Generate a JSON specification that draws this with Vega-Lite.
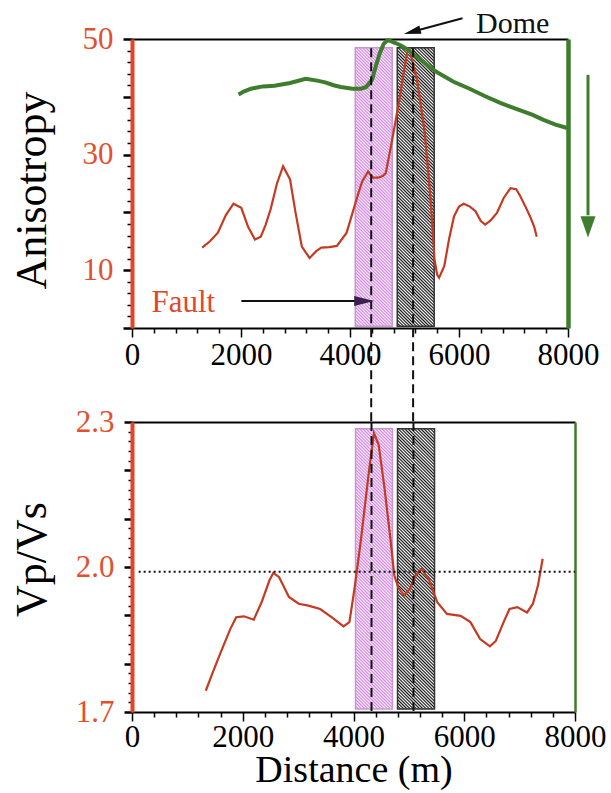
{
  "$schema": "https://vega.github.io/schema/vega-lite/v6.json",
  "padding": {"left": 10, "top": 8, "right": 5, "bottom": 3},
  "spacing": 94,
  "bounds": "flush",
  "datasets": {
    "aniso": [{"x":1289,"y":13.9},{"x":1430,"y":15.0},{"x":1576,"y":16.5},{"x":1720,"y":19.5},{"x":1862,"y":21.5},{"x":2005,"y":20.8},{"x":2130,"y":17.5},{"x":2256,"y":15.3},{"x":2363,"y":15.8},{"x":2450,"y":17.8},{"x":2542,"y":20.5},{"x":2660,"y":25.0},{"x":2772,"y":28.0},{"x":2900,"y":25.7},{"x":3000,"y":20.0},{"x":3116,"y":14.1},{"x":3259,"y":12.1},{"x":3380,"y":13.3},{"x":3474,"y":13.9},{"x":3620,"y":14.0},{"x":3760,"y":14.2},{"x":3939,"y":16.5},{"x":4083,"y":21.1},{"x":4160,"y":23.5},{"x":4226,"y":25.4},{"x":4333,"y":27.1},{"x":4420,"y":26.0},{"x":4512,"y":26.0},{"x":4600,"y":26.3},{"x":4656,"y":26.8},{"x":4763,"y":32.0},{"x":4906,"y":39.5},{"x":4990,"y":44.5},{"x":5049,"y":47.6},{"x":5090,"y":48.2},{"x":5135,"y":46.5},{"x":5228,"y":43.0},{"x":5300,"y":38.5},{"x":5372,"y":33.7},{"x":5479,"y":22.2},{"x":5551,"y":11.8},{"x":5600,"y":9.2},{"x":5635,"y":8.7},{"x":5729,"y":10.7},{"x":5820,"y":15.5},{"x":5908,"y":19.3},{"x":6000,"y":21.0},{"x":6087,"y":21.5},{"x":6200,"y":21.0},{"x":6302,"y":20.2},{"x":6400,"y":18.5},{"x":6481,"y":17.9},{"x":6580,"y":18.6},{"x":6696,"y":19.9},{"x":6820,"y":22.5},{"x":6946,"y":24.2},{"x":7050,"y":24.0},{"x":7125,"y":22.8},{"x":7220,"y":21.0},{"x":7304,"y":19.3},{"x":7380,"y":17.5},{"x":7426,"y":15.8}],
    "green": [{"x":1955,"y":40.4},{"x":2050,"y":40.9},{"x":2184,"y":41.4},{"x":2400,"y":41.8},{"x":2614,"y":41.9},{"x":2900,"y":42.4},{"x":3187,"y":43.1},{"x":3400,"y":42.8},{"x":3545,"y":42.5},{"x":3700,"y":42.0},{"x":3831,"y":41.7},{"x":4046,"y":41.4},{"x":4200,"y":41.4},{"x":4297,"y":41.7},{"x":4405,"y":43.0},{"x":4480,"y":45.5},{"x":4548,"y":47.6},{"x":4620,"y":49.2},{"x":4691,"y":49.8},{"x":4760,"y":49.6},{"x":4835,"y":49.3},{"x":4950,"y":48.8},{"x":5049,"y":48.2},{"x":5200,"y":47.1},{"x":5336,"y":46.1},{"x":5480,"y":45.0},{"x":5622,"y":44.1},{"x":5900,"y":42.6},{"x":6195,"y":41.4},{"x":6480,"y":40.1},{"x":6768,"y":38.9},{"x":7050,"y":37.9},{"x":7341,"y":36.9},{"x":7550,"y":36.0},{"x":7771,"y":35.2},{"x":7986,"y":34.6}],
    "vpvs": [{"x":1332,"y":1.744},{"x":1459,"y":1.782},{"x":1600,"y":1.823},{"x":1776,"y":1.872},{"x":1882,"y":1.896},{"x":2023,"y":1.898},{"x":2199,"y":1.891},{"x":2340,"y":1.927},{"x":2481,"y":1.972},{"x":2552,"y":1.988},{"x":2657,"y":1.979},{"x":2834,"y":1.938},{"x":3010,"y":1.924},{"x":3186,"y":1.920},{"x":3397,"y":1.913},{"x":3609,"y":1.896},{"x":3820,"y":1.877},{"x":3926,"y":1.886},{"x":4018,"y":1.955},{"x":4137,"y":2.059},{"x":4278,"y":2.197},{"x":4370,"y":2.277},{"x":4454,"y":2.253},{"x":4560,"y":2.163},{"x":4666,"y":2.059},{"x":4736,"y":1.983},{"x":4807,"y":1.958},{"x":4913,"y":1.941},{"x":5018,"y":1.955},{"x":5124,"y":1.983},{"x":5230,"y":1.996},{"x":5371,"y":1.972},{"x":5512,"y":1.927},{"x":5688,"y":1.903},{"x":5935,"y":1.899},{"x":6111,"y":1.886},{"x":6287,"y":1.851},{"x":6464,"y":1.836},{"x":6570,"y":1.847},{"x":6711,"y":1.886},{"x":6817,"y":1.913},{"x":6958,"y":1.917},{"x":7134,"y":1.906},{"x":7240,"y":1.924},{"x":7332,"y":1.962},{"x":7416,"y":2.017}],
    "rectsTop": [{"kind":"pink","x":4097,"x2":4775,"y":0.3,"y2":48.5},{"kind":"gray","x":4867,"x2":5545,"y":0.3,"y2":48.5}],
    "rectsBot": [{"kind":"pink","x":4036,"x2":4704,"y":1.706,"y2":2.286},{"kind":"gray","x":4795,"x2":5463,"y":1.706,"y2":2.286}],
    "dashTop": [{"x":4389,"y":48.4,"y2":-16.3},{"x":5158,"y":48.4,"y2":-16.3}],
    "dashBot": [{"x":4325,"y":2.3,"y2":1.7},{"x":5083,"y":2.3,"y2":1.7}],
    "refLine": [{"x":120,"x2":8000,"y":1.99}],
    "faultText": [{"x":357,"y":2.8,"text":"Fault"}],
    "faultArrow": [{"x":2007,"x2":4300,"y":4.67}],
    "faultHead": [{"x":4260,"y":4.67}],
    "domeText": [{"x":6314,"y":52.6,"text":"Dome"}],
    "domeArrow": [{"x":6064,"y":53.6,"x2":5141,"y2":51.25}],
    "domeHead": [{"x":5141,"y":51.25}],
    "greenArrow": [{"x":8367,"y":43.8,"y2":19.5}],
    "greenHead": [{"x":8367,"y":17.5}]
  },
  "vconcat": [
    {
      "width": 436,
      "height": 289,
      "resolve": {"axis": {"x": "independent", "y": "independent"}},
      "encoding": {
        "x": {"field": "x", "type": "quantitative", "scale": {"domain": [0, 8000], "nice": false, "zero": false}, "axis": null},
        "y": {"field": "y", "type": "quantitative", "scale": {"domain": [0, 50], "nice": false, "zero": false}, "axis": null}
      },
      "layer": [
        {
          "data": {"name": "rectsTop"},
          "transform": [{"filter": "datum.kind == 'pink'"}],
          "mark": {"type": "rect", "style": "hatchPink", "stroke": "#c996cf", "strokeWidth": 1.5},
          "encoding": {
            "x": {"field": "x", "type": "quantitative", "scale": {"domain": [0, 8000], "nice": false, "zero": false},
              "axis": {"orient": "bottom", "values": [0,400,800,1200,1600,2000,2400,2800,3200,3600,4000,4400,4800,5200,5600,6000,6400,6800,7200,7600,8000], "format": "d",
                "labelExpr": "datum.value % 2000 == 0 ? datum.label : ''",
                "tickSize": {"condition": {"test": "datum.value % 2000 == 0", "value": 9}, "value": 5},
                "tickColor": "#000", "tickWidth": 1.5, "domainColor": "#000", "domainWidth": 2, "labelColor": "#000", "labelPadding": 3, "title": null}},
            "x2": {"field": "x2"},
            "y": {"field": "y", "type": "quantitative", "scale": {"domain": [0, 50], "nice": false, "zero": false},
              "axis": {"orient": "left", "values": [0,2,4,6,8,10,12,14,16,18,20,22,24,26,28,30,32,34,36,38,40,42,44,46,48,50],
                "labelExpr": "datum.value % 20 == 10 ? datum.label : ''",
                "tickSize": {"condition": {"test": "datum.value % 10 == 0", "value": 9}, "value": 5},
                "tickWidth": {"condition": {"test": "datum.value % 10 == 0", "value": 2.5}, "value": 1.5},
                "tickColor": "#000", "domainColor": "#e2452a", "domainWidth": 4, "labelColor": "#e2502e", "labelPadding": 10,
                "title": "Anisotropy", "titleFontSize": 44, "titleAngle": 270, "titleAlign": "center", "titleBaseline": "middle", "titleX": -100, "titleY": 151}},
            "y2": {"field": "y2"}
          }
        },
        {
          "data": {"name": "rectsTop"},
          "transform": [{"filter": "datum.kind == 'gray'"}],
          "mark": {"type": "rect", "style": "hatchGray", "stroke": "#333333", "strokeWidth": 1.5},
          "encoding": {"x2": {"field": "x2"}, "y2": {"field": "y2"}}
        },
        {
          "data": {"name": "aniso"},
          "mark": {"type": "line", "color": "#c43a22", "strokeWidth": 2.2},
          "encoding": {
            "x": {"field": "x", "type": "quantitative", "scale": {"domain": [0, 8000], "nice": false, "zero": false},
              "axis": {"orient": "top", "ticks": false, "labels": false, "domainColor": "#000", "domainWidth": 2, "title": null}},
            "y": {"field": "y", "type": "quantitative", "scale": {"domain": [0, 50], "nice": false, "zero": false},
              "axis": {"orient": "right", "ticks": false, "labels": false, "domainColor": "#3d7d2b", "domainWidth": 4.5, "title": null}}
          }
        },
        {
          "data": {"name": "green"},
          "mark": {"type": "line", "color": "#3d7d2b", "strokeWidth": 4}
        },
        {
          "data": {"name": "dashTop"},
          "mark": {"type": "rule", "color": "#111111", "strokeWidth": 2, "strokeDash": [9, 5]},
          "encoding": {"y2": {"field": "y2"}}
        },
        {
          "data": {"name": "greenArrow"},
          "mark": {"type": "rule", "color": "#3d7d2b", "strokeWidth": 3},
          "encoding": {"y2": {"field": "y2"}}
        },
        {
          "data": {"name": "greenHead"},
          "mark": {"type": "point", "shape": "M-0.7,-1L0.7,-1L0,1Z", "filled": true, "size": 460, "color": "#3d7d2b", "opacity": 1}
        },
        {
          "data": {"name": "faultText"},
          "mark": {"type": "text", "align": "left", "baseline": "alphabetic", "fontSize": 31, "font": "Liberation Serif", "color": "#e0482c"},
          "encoding": {"text": {"field": "text"}}
        },
        {
          "data": {"name": "faultArrow"},
          "mark": {"type": "rule", "color": "#111111", "strokeWidth": 2},
          "encoding": {"x2": {"field": "x2"}}
        },
        {
          "data": {"name": "faultHead"},
          "mark": {"type": "point", "shape": "M-1,-0.5L1,0L-1,0.5Z", "filled": true, "size": 400, "color": "#3a2050", "opacity": 1}
        },
        {
          "data": {"name": "domeText"},
          "mark": {"type": "text", "align": "left", "baseline": "middle", "fontSize": 30, "font": "Liberation Serif", "color": "#111111"},
          "encoding": {"text": {"field": "text"}}
        },
        {
          "data": {"name": "domeArrow"},
          "mark": {"type": "rule", "color": "#111111", "strokeWidth": 2},
          "encoding": {"x2": {"field": "x2"}, "y2": {"field": "y2"}}
        },
        {
          "data": {"name": "domeHead"},
          "mark": {"type": "point", "shape": "M1,-0.5L-1,0L1,0.5Z", "filled": true, "size": 290, "angle": 345, "color": "#111111", "opacity": 1}
        }
      ]
    },
    {
      "width": 443,
      "height": 290,
      "resolve": {"axis": {"x": "independent", "y": "independent"}},
      "encoding": {
        "x": {"field": "x", "type": "quantitative", "scale": {"domain": [0, 8000], "nice": false, "zero": false}, "axis": null},
        "y": {"field": "y", "type": "quantitative", "scale": {"domain": [1.7, 2.3], "nice": false, "zero": false}, "axis": null}
      },
      "layer": [
        {
          "data": {"name": "rectsBot"},
          "transform": [{"filter": "datum.kind == 'pink'"}],
          "mark": {"type": "rect", "style": "hatchPink", "stroke": "#c996cf", "strokeWidth": 1.5},
          "encoding": {
            "x": {"field": "x", "type": "quantitative", "scale": {"domain": [0, 8000], "nice": false, "zero": false},
              "axis": {"orient": "bottom", "values": [0,400,800,1200,1600,2000,2400,2800,3200,3600,4000,4400,4800,5200,5600,6000,6400,6800,7200,7600,8000], "format": "d",
                "labelExpr": "datum.value % 2000 == 0 ? datum.label : ''",
                "tickSize": {"condition": {"test": "datum.value % 2000 == 0", "value": 9}, "value": 5},
                "tickColor": "#000", "tickWidth": 1.5, "domainColor": "#000", "domainWidth": 2, "labelColor": "#000", "labelPadding": 1,
                "title": "Distance (m)", "titleFontSize": 38, "titleBaseline": "alphabetic", "titleY": 69}},
            "x2": {"field": "x2"},
            "y": {"field": "y", "type": "quantitative", "scale": {"domain": [1.7, 2.3], "nice": false, "zero": false},
              "axis": {"orient": "left", "values": [1.7,1.72,1.74,1.76,1.78,1.8,1.82,1.84,1.86,1.88,1.9,1.92,1.94,1.96,1.98,2,2.02,2.04,2.06,2.08,2.1,2.12,2.14,2.16,2.18,2.2,2.22,2.24,2.26,2.28,2.3],
                "format": ".1f",
                "labelExpr": "(abs(datum.value*10 - round(datum.value*10)) < 0.01 && (round(datum.value*10) == 17 || round(datum.value*10) == 20 || round(datum.value*10) == 23)) ? datum.label : ''",
                "tickSize": {"condition": {"test": "abs(datum.value*10 - round(datum.value*10)) < 0.01", "value": 8}, "value": 4},
                "tickWidth": {"condition": {"test": "abs(datum.value*10 - round(datum.value*10)) < 0.01", "value": 2.5}, "value": 1.5},
                "tickColor": "#000", "domainColor": "#e2452a", "domainWidth": 4, "labelColor": "#e2502e", "labelPadding": 10,
                "title": "Vp/Vs", "titleFontSize": 44, "titleAngle": 270, "titleAlign": "center", "titleBaseline": "middle", "titleX": -100, "titleY": 137}},
            "y2": {"field": "y2"}
          }
        },
        {
          "data": {"name": "rectsBot"},
          "transform": [{"filter": "datum.kind == 'gray'"}],
          "mark": {"type": "rect", "style": "hatchGray", "stroke": "#333333", "strokeWidth": 1.5},
          "encoding": {"x2": {"field": "x2"}, "y2": {"field": "y2"}}
        },
        {
          "data": {"name": "vpvs"},
          "mark": {"type": "line", "color": "#c43a22", "strokeWidth": 2.2},
          "encoding": {
            "x": {"field": "x", "type": "quantitative", "scale": {"domain": [0, 8000], "nice": false, "zero": false},
              "axis": {"orient": "top", "ticks": false, "labels": false, "domainColor": "#000", "domainWidth": 2, "title": null}},
            "y": {"field": "y", "type": "quantitative", "scale": {"domain": [1.7, 2.3], "nice": false, "zero": false},
              "axis": {"orient": "right", "ticks": false, "labels": false, "domainColor": "#3d7d2b", "domainWidth": 2.5, "title": null}}
          }
        },
        {
          "data": {"name": "refLine"},
          "mark": {"type": "rule", "color": "#111111", "strokeWidth": 2, "strokeDash": [2, 3]},
          "encoding": {"x2": {"field": "x2"}}
        },
        {
          "data": {"name": "dashBot"},
          "mark": {"type": "rule", "color": "#111111", "strokeWidth": 2, "strokeDash": [9, 5]},
          "encoding": {"y2": {"field": "y2"}}
        }
      ]
    }
  ],
  "config": {
    "font": "Liberation Serif",
    "view": {"stroke": null},
    "axis": {"grid": false, "labelFont": "Liberation Serif", "labelFontSize": 31, "titleFont": "Liberation Serif", "titleFontSize": 42, "titleFontWeight": "normal", "titleColor": "#000", "labelFlush": false, "labelOverlap": false, "labelBound": false},
    "style": {
      "hatchPink": {"color": {"gradient":"linear","x1":0,"y1":1,"x2":0.147,"y2":-0.12,"stops":[{"offset":0,"color":"#c8d"},{"offset":0.005,"color":"#fef"},{"offset":0.01,"color":"#c8d"},{"offset":0.015,"color":"#fef"},{"offset":0.02,"color":"#c8d"},{"offset":0.025,"color":"#fef"},{"offset":0.03,"color":"#c8d"},{"offset":0.035,"color":"#fef"},{"offset":0.04,"color":"#c8d"},{"offset":0.045,"color":"#fef"},{"offset":0.05,"color":"#c8d"},{"offset":0.055,"color":"#fef"},{"offset":0.06,"color":"#c8d"},{"offset":0.065,"color":"#fef"},{"offset":0.07,"color":"#c8d"},{"offset":0.075,"color":"#fef"},{"offset":0.08,"color":"#c8d"},{"offset":0.085,"color":"#fef"},{"offset":0.09,"color":"#c8d"},{"offset":0.095,"color":"#fef"},{"offset":0.1,"color":"#c8d"},{"offset":0.105,"color":"#fef"},{"offset":0.11,"color":"#c8d"},{"offset":0.115,"color":"#fef"},{"offset":0.12,"color":"#c8d"},{"offset":0.125,"color":"#fef"},{"offset":0.13,"color":"#c8d"},{"offset":0.135,"color":"#fef"},{"offset":0.14,"color":"#c8d"},{"offset":0.145,"color":"#fef"},{"offset":0.15,"color":"#c8d"},{"offset":0.155,"color":"#fef"},{"offset":0.16,"color":"#c8d"},{"offset":0.165,"color":"#fef"},{"offset":0.17,"color":"#c8d"},{"offset":0.175,"color":"#fef"},{"offset":0.18,"color":"#c8d"},{"offset":0.185,"color":"#fef"},{"offset":0.19,"color":"#c8d"},{"offset":0.195,"color":"#fef"},{"offset":0.2,"color":"#c8d"},{"offset":0.205,"color":"#fef"},{"offset":0.21,"color":"#c8d"},{"offset":0.215,"color":"#fef"},{"offset":0.22,"color":"#c8d"},{"offset":0.225,"color":"#fef"},{"offset":0.23,"color":"#c8d"},{"offset":0.235,"color":"#fef"},{"offset":0.24,"color":"#c8d"},{"offset":0.245,"color":"#fef"},{"offset":0.25,"color":"#c8d"},{"offset":0.255,"color":"#fef"},{"offset":0.26,"color":"#c8d"},{"offset":0.265,"color":"#fef"},{"offset":0.27,"color":"#c8d"},{"offset":0.275,"color":"#fef"},{"offset":0.28,"color":"#c8d"},{"offset":0.285,"color":"#fef"},{"offset":0.29,"color":"#c8d"},{"offset":0.295,"color":"#fef"},{"offset":0.3,"color":"#c8d"},{"offset":0.305,"color":"#fef"},{"offset":0.31,"color":"#c8d"},{"offset":0.315,"color":"#fef"},{"offset":0.32,"color":"#c8d"},{"offset":0.325,"color":"#fef"},{"offset":0.33,"color":"#c8d"},{"offset":0.335,"color":"#fef"},{"offset":0.34,"color":"#c8d"},{"offset":0.345,"color":"#fef"},{"offset":0.35,"color":"#c8d"},{"offset":0.355,"color":"#fef"},{"offset":0.36,"color":"#c8d"},{"offset":0.365,"color":"#fef"},{"offset":0.37,"color":"#c8d"},{"offset":0.375,"color":"#fef"},{"offset":0.38,"color":"#c8d"},{"offset":0.385,"color":"#fef"},{"offset":0.39,"color":"#c8d"},{"offset":0.395,"color":"#fef"},{"offset":0.4,"color":"#c8d"},{"offset":0.405,"color":"#fef"},{"offset":0.41,"color":"#c8d"},{"offset":0.415,"color":"#fef"},{"offset":0.42,"color":"#c8d"},{"offset":0.425,"color":"#fef"},{"offset":0.43,"color":"#c8d"},{"offset":0.435,"color":"#fef"},{"offset":0.44,"color":"#c8d"},{"offset":0.445,"color":"#fef"},{"offset":0.45,"color":"#c8d"},{"offset":0.455,"color":"#fef"},{"offset":0.46,"color":"#c8d"},{"offset":0.465,"color":"#fef"},{"offset":0.47,"color":"#c8d"},{"offset":0.475,"color":"#fef"},{"offset":0.48,"color":"#c8d"},{"offset":0.485,"color":"#fef"},{"offset":0.49,"color":"#c8d"},{"offset":0.495,"color":"#fef"},{"offset":0.5,"color":"#c8d"},{"offset":0.505,"color":"#fef"},{"offset":0.51,"color":"#c8d"},{"offset":0.515,"color":"#fef"},{"offset":0.52,"color":"#c8d"},{"offset":0.525,"color":"#fef"},{"offset":0.53,"color":"#c8d"},{"offset":0.535,"color":"#fef"},{"offset":0.54,"color":"#c8d"},{"offset":0.545,"color":"#fef"},{"offset":0.55,"color":"#c8d"},{"offset":0.555,"color":"#fef"},{"offset":0.56,"color":"#c8d"},{"offset":0.565,"color":"#fef"},{"offset":0.57,"color":"#c8d"},{"offset":0.575,"color":"#fef"},{"offset":0.58,"color":"#c8d"},{"offset":0.585,"color":"#fef"},{"offset":0.59,"color":"#c8d"},{"offset":0.595,"color":"#fef"},{"offset":0.6,"color":"#c8d"},{"offset":0.605,"color":"#fef"},{"offset":0.61,"color":"#c8d"},{"offset":0.615,"color":"#fef"},{"offset":0.62,"color":"#c8d"},{"offset":0.625,"color":"#fef"},{"offset":0.63,"color":"#c8d"},{"offset":0.635,"color":"#fef"},{"offset":0.64,"color":"#c8d"},{"offset":0.645,"color":"#fef"},{"offset":0.65,"color":"#c8d"},{"offset":0.655,"color":"#fef"},{"offset":0.66,"color":"#c8d"},{"offset":0.665,"color":"#fef"},{"offset":0.67,"color":"#c8d"},{"offset":0.675,"color":"#fef"},{"offset":0.68,"color":"#c8d"},{"offset":0.685,"color":"#fef"},{"offset":0.69,"color":"#c8d"},{"offset":0.695,"color":"#fef"},{"offset":0.7,"color":"#c8d"},{"offset":0.705,"color":"#fef"},{"offset":0.71,"color":"#c8d"},{"offset":0.715,"color":"#fef"},{"offset":0.72,"color":"#c8d"},{"offset":0.725,"color":"#fef"},{"offset":0.73,"color":"#c8d"},{"offset":0.735,"color":"#fef"},{"offset":0.74,"color":"#c8d"},{"offset":0.745,"color":"#fef"},{"offset":0.75,"color":"#c8d"},{"offset":0.755,"color":"#fef"},{"offset":0.76,"color":"#c8d"},{"offset":0.765,"color":"#fef"},{"offset":0.77,"color":"#c8d"},{"offset":0.775,"color":"#fef"},{"offset":0.78,"color":"#c8d"},{"offset":0.785,"color":"#fef"},{"offset":0.79,"color":"#c8d"},{"offset":0.795,"color":"#fef"},{"offset":0.8,"color":"#c8d"},{"offset":0.805,"color":"#fef"},{"offset":0.81,"color":"#c8d"},{"offset":0.815,"color":"#fef"},{"offset":0.82,"color":"#c8d"},{"offset":0.825,"color":"#fef"},{"offset":0.83,"color":"#c8d"},{"offset":0.835,"color":"#fef"},{"offset":0.84,"color":"#c8d"},{"offset":0.845,"color":"#fef"},{"offset":0.85,"color":"#c8d"},{"offset":0.855,"color":"#fef"},{"offset":0.86,"color":"#c8d"},{"offset":0.865,"color":"#fef"},{"offset":0.87,"color":"#c8d"},{"offset":0.875,"color":"#fef"},{"offset":0.88,"color":"#c8d"},{"offset":0.885,"color":"#fef"},{"offset":0.89,"color":"#c8d"},{"offset":0.895,"color":"#fef"},{"offset":0.9,"color":"#c8d"},{"offset":0.905,"color":"#fef"},{"offset":0.91,"color":"#c8d"},{"offset":0.915,"color":"#fef"},{"offset":0.92,"color":"#c8d"},{"offset":0.925,"color":"#fef"},{"offset":0.93,"color":"#c8d"},{"offset":0.935,"color":"#fef"},{"offset":0.94,"color":"#c8d"},{"offset":0.945,"color":"#fef"},{"offset":0.95,"color":"#c8d"},{"offset":0.955,"color":"#fef"},{"offset":0.96,"color":"#c8d"},{"offset":0.965,"color":"#fef"},{"offset":0.97,"color":"#c8d"},{"offset":0.975,"color":"#fef"},{"offset":0.98,"color":"#c8d"},{"offset":0.985,"color":"#fef"},{"offset":0.99,"color":"#c8d"},{"offset":0.995,"color":"#fef"},{"offset":1,"color":"#c8d"}]}},
      "hatchGray": {"color": {"gradient":"linear","x1":0,"y1":1,"x2":0.147,"y2":-0.12,"stops":[{"offset":0,"color":"#111"},{"offset":0.005,"color":"#fff"},{"offset":0.01,"color":"#111"},{"offset":0.015,"color":"#fff"},{"offset":0.02,"color":"#111"},{"offset":0.025,"color":"#fff"},{"offset":0.03,"color":"#111"},{"offset":0.035,"color":"#fff"},{"offset":0.04,"color":"#111"},{"offset":0.045,"color":"#fff"},{"offset":0.05,"color":"#111"},{"offset":0.055,"color":"#fff"},{"offset":0.06,"color":"#111"},{"offset":0.065,"color":"#fff"},{"offset":0.07,"color":"#111"},{"offset":0.075,"color":"#fff"},{"offset":0.08,"color":"#111"},{"offset":0.085,"color":"#fff"},{"offset":0.09,"color":"#111"},{"offset":0.095,"color":"#fff"},{"offset":0.1,"color":"#111"},{"offset":0.105,"color":"#fff"},{"offset":0.11,"color":"#111"},{"offset":0.115,"color":"#fff"},{"offset":0.12,"color":"#111"},{"offset":0.125,"color":"#fff"},{"offset":0.13,"color":"#111"},{"offset":0.135,"color":"#fff"},{"offset":0.14,"color":"#111"},{"offset":0.145,"color":"#fff"},{"offset":0.15,"color":"#111"},{"offset":0.155,"color":"#fff"},{"offset":0.16,"color":"#111"},{"offset":0.165,"color":"#fff"},{"offset":0.17,"color":"#111"},{"offset":0.175,"color":"#fff"},{"offset":0.18,"color":"#111"},{"offset":0.185,"color":"#fff"},{"offset":0.19,"color":"#111"},{"offset":0.195,"color":"#fff"},{"offset":0.2,"color":"#111"},{"offset":0.205,"color":"#fff"},{"offset":0.21,"color":"#111"},{"offset":0.215,"color":"#fff"},{"offset":0.22,"color":"#111"},{"offset":0.225,"color":"#fff"},{"offset":0.23,"color":"#111"},{"offset":0.235,"color":"#fff"},{"offset":0.24,"color":"#111"},{"offset":0.245,"color":"#fff"},{"offset":0.25,"color":"#111"},{"offset":0.255,"color":"#fff"},{"offset":0.26,"color":"#111"},{"offset":0.265,"color":"#fff"},{"offset":0.27,"color":"#111"},{"offset":0.275,"color":"#fff"},{"offset":0.28,"color":"#111"},{"offset":0.285,"color":"#fff"},{"offset":0.29,"color":"#111"},{"offset":0.295,"color":"#fff"},{"offset":0.3,"color":"#111"},{"offset":0.305,"color":"#fff"},{"offset":0.31,"color":"#111"},{"offset":0.315,"color":"#fff"},{"offset":0.32,"color":"#111"},{"offset":0.325,"color":"#fff"},{"offset":0.33,"color":"#111"},{"offset":0.335,"color":"#fff"},{"offset":0.34,"color":"#111"},{"offset":0.345,"color":"#fff"},{"offset":0.35,"color":"#111"},{"offset":0.355,"color":"#fff"},{"offset":0.36,"color":"#111"},{"offset":0.365,"color":"#fff"},{"offset":0.37,"color":"#111"},{"offset":0.375,"color":"#fff"},{"offset":0.38,"color":"#111"},{"offset":0.385,"color":"#fff"},{"offset":0.39,"color":"#111"},{"offset":0.395,"color":"#fff"},{"offset":0.4,"color":"#111"},{"offset":0.405,"color":"#fff"},{"offset":0.41,"color":"#111"},{"offset":0.415,"color":"#fff"},{"offset":0.42,"color":"#111"},{"offset":0.425,"color":"#fff"},{"offset":0.43,"color":"#111"},{"offset":0.435,"color":"#fff"},{"offset":0.44,"color":"#111"},{"offset":0.445,"color":"#fff"},{"offset":0.45,"color":"#111"},{"offset":0.455,"color":"#fff"},{"offset":0.46,"color":"#111"},{"offset":0.465,"color":"#fff"},{"offset":0.47,"color":"#111"},{"offset":0.475,"color":"#fff"},{"offset":0.48,"color":"#111"},{"offset":0.485,"color":"#fff"},{"offset":0.49,"color":"#111"},{"offset":0.495,"color":"#fff"},{"offset":0.5,"color":"#111"},{"offset":0.505,"color":"#fff"},{"offset":0.51,"color":"#111"},{"offset":0.515,"color":"#fff"},{"offset":0.52,"color":"#111"},{"offset":0.525,"color":"#fff"},{"offset":0.53,"color":"#111"},{"offset":0.535,"color":"#fff"},{"offset":0.54,"color":"#111"},{"offset":0.545,"color":"#fff"},{"offset":0.55,"color":"#111"},{"offset":0.555,"color":"#fff"},{"offset":0.56,"color":"#111"},{"offset":0.565,"color":"#fff"},{"offset":0.57,"color":"#111"},{"offset":0.575,"color":"#fff"},{"offset":0.58,"color":"#111"},{"offset":0.585,"color":"#fff"},{"offset":0.59,"color":"#111"},{"offset":0.595,"color":"#fff"},{"offset":0.6,"color":"#111"},{"offset":0.605,"color":"#fff"},{"offset":0.61,"color":"#111"},{"offset":0.615,"color":"#fff"},{"offset":0.62,"color":"#111"},{"offset":0.625,"color":"#fff"},{"offset":0.63,"color":"#111"},{"offset":0.635,"color":"#fff"},{"offset":0.64,"color":"#111"},{"offset":0.645,"color":"#fff"},{"offset":0.65,"color":"#111"},{"offset":0.655,"color":"#fff"},{"offset":0.66,"color":"#111"},{"offset":0.665,"color":"#fff"},{"offset":0.67,"color":"#111"},{"offset":0.675,"color":"#fff"},{"offset":0.68,"color":"#111"},{"offset":0.685,"color":"#fff"},{"offset":0.69,"color":"#111"},{"offset":0.695,"color":"#fff"},{"offset":0.7,"color":"#111"},{"offset":0.705,"color":"#fff"},{"offset":0.71,"color":"#111"},{"offset":0.715,"color":"#fff"},{"offset":0.72,"color":"#111"},{"offset":0.725,"color":"#fff"},{"offset":0.73,"color":"#111"},{"offset":0.735,"color":"#fff"},{"offset":0.74,"color":"#111"},{"offset":0.745,"color":"#fff"},{"offset":0.75,"color":"#111"},{"offset":0.755,"color":"#fff"},{"offset":0.76,"color":"#111"},{"offset":0.765,"color":"#fff"},{"offset":0.77,"color":"#111"},{"offset":0.775,"color":"#fff"},{"offset":0.78,"color":"#111"},{"offset":0.785,"color":"#fff"},{"offset":0.79,"color":"#111"},{"offset":0.795,"color":"#fff"},{"offset":0.8,"color":"#111"},{"offset":0.805,"color":"#fff"},{"offset":0.81,"color":"#111"},{"offset":0.815,"color":"#fff"},{"offset":0.82,"color":"#111"},{"offset":0.825,"color":"#fff"},{"offset":0.83,"color":"#111"},{"offset":0.835,"color":"#fff"},{"offset":0.84,"color":"#111"},{"offset":0.845,"color":"#fff"},{"offset":0.85,"color":"#111"},{"offset":0.855,"color":"#fff"},{"offset":0.86,"color":"#111"},{"offset":0.865,"color":"#fff"},{"offset":0.87,"color":"#111"},{"offset":0.875,"color":"#fff"},{"offset":0.88,"color":"#111"},{"offset":0.885,"color":"#fff"},{"offset":0.89,"color":"#111"},{"offset":0.895,"color":"#fff"},{"offset":0.9,"color":"#111"},{"offset":0.905,"color":"#fff"},{"offset":0.91,"color":"#111"},{"offset":0.915,"color":"#fff"},{"offset":0.92,"color":"#111"},{"offset":0.925,"color":"#fff"},{"offset":0.93,"color":"#111"},{"offset":0.935,"color":"#fff"},{"offset":0.94,"color":"#111"},{"offset":0.945,"color":"#fff"},{"offset":0.95,"color":"#111"},{"offset":0.955,"color":"#fff"},{"offset":0.96,"color":"#111"},{"offset":0.965,"color":"#fff"},{"offset":0.97,"color":"#111"},{"offset":0.975,"color":"#fff"},{"offset":0.98,"color":"#111"},{"offset":0.985,"color":"#fff"},{"offset":0.99,"color":"#111"},{"offset":0.995,"color":"#fff"},{"offset":1,"color":"#111"}]}}
    }
  }
}
